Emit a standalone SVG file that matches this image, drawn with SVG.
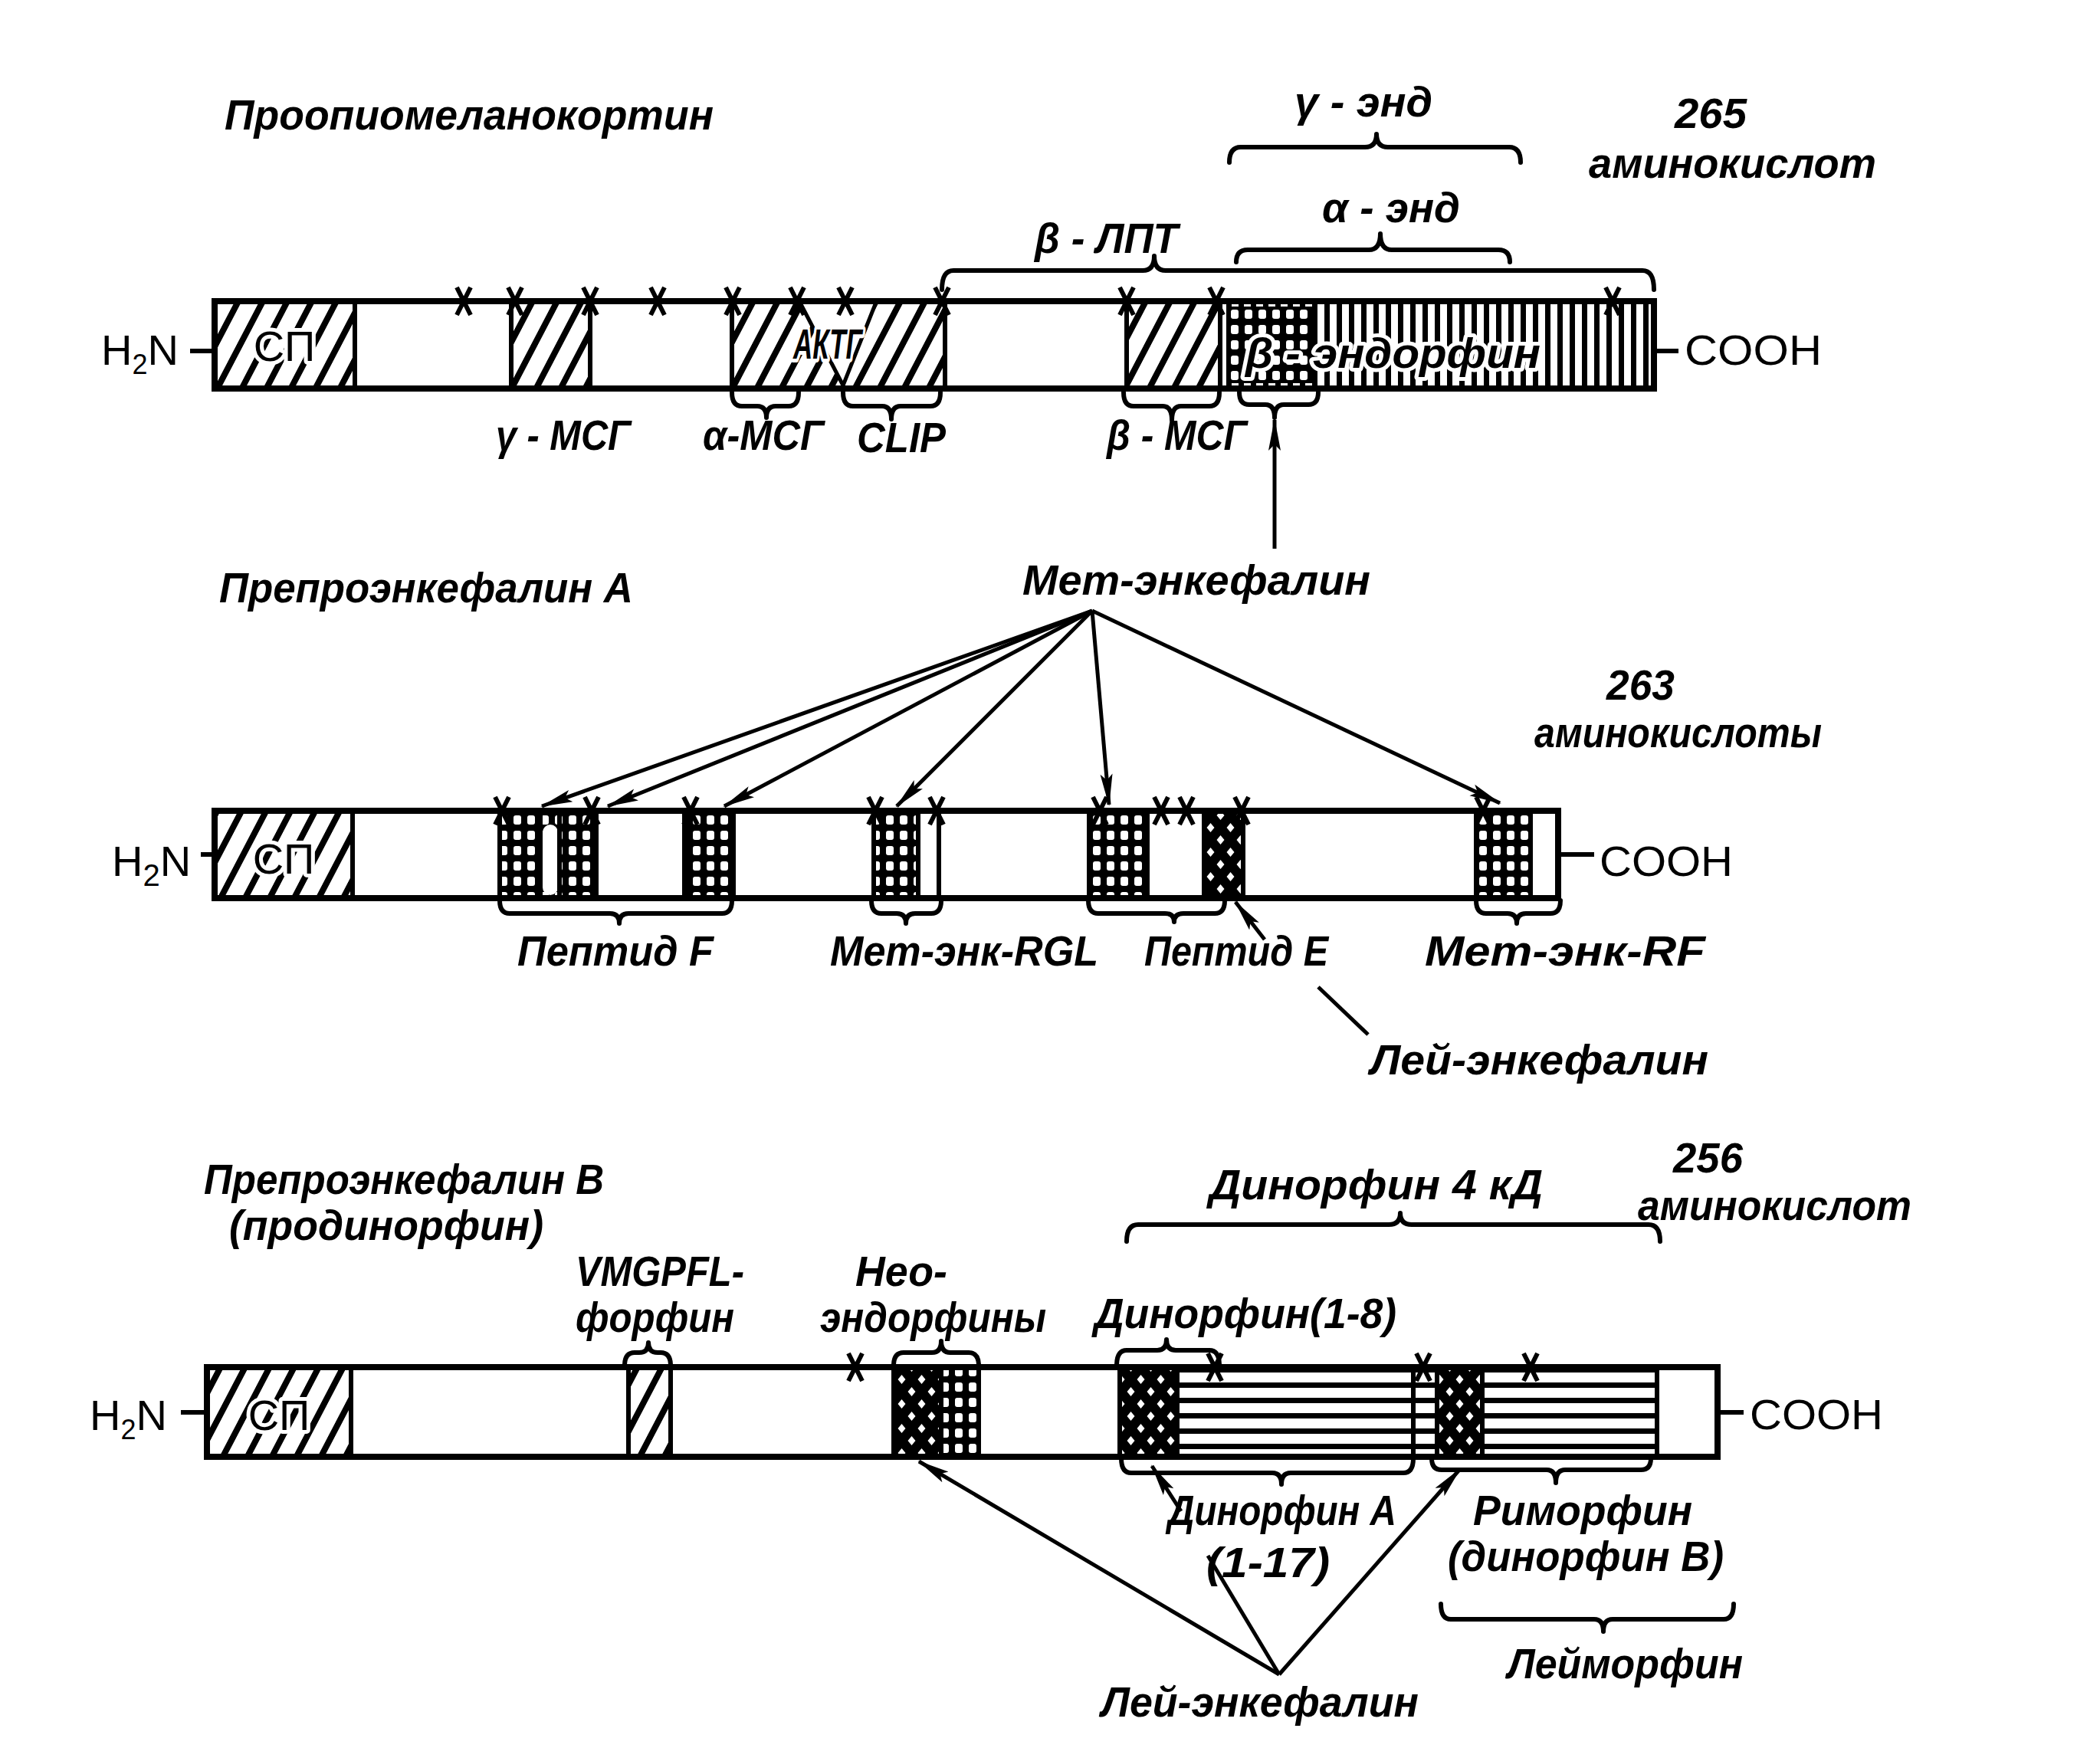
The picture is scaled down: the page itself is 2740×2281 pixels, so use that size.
<svg xmlns="http://www.w3.org/2000/svg" xmlns:xlink="http://www.w3.org/1999/xlink" width="2740" height="2281" viewBox="0 0 2740 2281">
<style>
.t{font-family:"Liberation Sans",Arial,sans-serif;font-style:italic;font-weight:bold;font-size:56px;fill:#000}
.u{font-family:"Liberation Sans",Arial,sans-serif;font-size:56px;fill:#000}
.halo{stroke:#fff;stroke-width:10px;paint-order:stroke;stroke-linejoin:round}
.bar{fill:none;stroke:#000;stroke-width:8}
.div{stroke:#000;stroke-width:6}
.br{fill:none;stroke:#000;stroke-width:6;stroke-linejoin:round;stroke-linecap:round}
.ln{fill:none;stroke:#000;stroke-width:5}
.ar{fill:none;stroke:#000;stroke-width:5;marker-end:url(#ah)}
</style>
<defs>
<pattern id="hatch" patternUnits="userSpaceOnUse" width="32" height="32" patternTransform="skewX(-27.6)"><rect width="32" height="32" fill="#fff"/><rect x="0" width="9" height="32" fill="#000"/></pattern>
<pattern id="vlines" patternUnits="userSpaceOnUse" width="16" height="20"><rect width="16" height="20" fill="#fff"/><rect width="7" height="20" fill="#000"/></pattern>
<pattern id="grid" patternUnits="userSpaceOnUse" width="18" height="20"><rect width="18" height="20" fill="#000"/><rect x="4" y="4" width="10" height="12" rx="3" fill="#fff"/></pattern>
<pattern id="xhatch" patternUnits="userSpaceOnUse" width="26" height="32"><rect width="26" height="32" fill="#000"/><path d="M6.5,2 L11.5,8 L6.5,14 L1.5,8 Z M19.5,18 L24.5,24 L19.5,30 L14.5,24 Z" fill="#fff"/></pattern>
<pattern id="hlines" patternUnits="userSpaceOnUse" y="1804" width="20" height="20"><rect width="20" height="20" fill="#fff"/><rect width="20" height="7" fill="#000"/></pattern>
<marker id="ah" markerUnits="userSpaceOnUse" markerWidth="42" markerHeight="18" refX="40" refY="9" orient="auto"><path d="M0,1 L42,9 L0,17 L8,9 Z" fill="#000"/></marker>
<path id="tick" d="M-9,-18 L9,18 M9,-18 L-9,18" stroke="#000" stroke-width="6" fill="none"/>
</defs>
<rect width="2740" height="2281" fill="#fff"/>

<!-- Row 1: POMC -->
<g id="pomc">
<rect x="280" y="393" width="183" height="114" fill="url(#hatch)"/>
<rect x="667" y="393" width="103" height="114" fill="url(#hatch)"/>
<rect x="955" y="393" width="278" height="114" fill="url(#hatch)"/>
<rect x="1470" y="393" width="122" height="114" fill="url(#hatch)"/>
<rect x="1592" y="393" width="566" height="114" fill="url(#vlines)"/>
<rect x="1600" y="400" width="112" height="100" fill="url(#grid)"/>
<polygon points="1045,397 1142,397 1100,503" fill="#fff"/>
<path class="ln" d="M1045,397 L1100,503 L1142,397"/>
<line class="div" x1="463" y1="393" x2="463" y2="507"/>
<line class="div" x1="667" y1="393" x2="667" y2="507"/>
<line class="div" x1="770" y1="393" x2="770" y2="507"/>
<line class="div" x1="955" y1="393" x2="955" y2="507"/>
<line class="div" x1="1233" y1="393" x2="1233" y2="507"/>
<line class="div" x1="1470" y1="393" x2="1470" y2="507"/>
<line class="div" x1="1592" y1="393" x2="1592" y2="507"/>
<rect class="bar" x="280" y="393" width="1878" height="114"/>
<text class="u halo" x="371" y="471" text-anchor="middle">СП</text>
<text class="t halo" x="1035" y="468" font-size="40" textLength="90" lengthAdjust="spacingAndGlyphs">АКТГ</text>
<text class="t halo" x="1625" y="480" textLength="385" lengthAdjust="spacingAndGlyphs">β - эндорфин</text>
<use href="#tick" x="605" y="393"/><use href="#tick" x="672" y="393"/><use href="#tick" x="770" y="393"/>
<use href="#tick" x="858" y="393"/><use href="#tick" x="956" y="393"/><use href="#tick" x="1040" y="393"/>
<use href="#tick" x="1103" y="393"/><use href="#tick" x="1229" y="393"/><use href="#tick" x="1470" y="393"/>
<use href="#tick" x="1587" y="393"/><use href="#tick" x="2104" y="393"/>
<text class="u" x="132" y="476">H<tspan font-size="36" dy="12">2</tspan><tspan dy="-12">N</tspan></text>
<line class="div" x1="248" y1="458" x2="280" y2="458"/>
<line class="div" x1="2158" y1="458" x2="2190" y2="458"/>
<text class="u" x="2198" y="476" textLength="179" lengthAdjust="spacingAndGlyphs">COOH</text>
</g>
<g id="pomc-labels">
<text class="t" x="293" y="169" textLength="638" lengthAdjust="spacingAndGlyphs">Проопиомеланокортин</text>
<text class="t" x="1689" y="152" textLength="180" lengthAdjust="spacingAndGlyphs">γ - энд</text>
<text class="t" x="1725" y="290" textLength="180" lengthAdjust="spacingAndGlyphs">α - энд</text>
<text class="t" x="1350" y="330" textLength="187" lengthAdjust="spacingAndGlyphs">β - ЛПТ</text>
<text class="t" x="2185" y="167" textLength="94" lengthAdjust="spacingAndGlyphs">265</text>
<text class="t" x="2073" y="232" textLength="375" lengthAdjust="spacingAndGlyphs">аминокислот</text>
<text class="t" x="647" y="587" textLength="176" lengthAdjust="spacingAndGlyphs">γ - МСГ</text>
<text class="t" x="917" y="587" textLength="158" lengthAdjust="spacingAndGlyphs">α-МСГ</text>
<text class="t" x="1118" y="590" textLength="116" lengthAdjust="spacingAndGlyphs">CLIP</text>
<text class="t" x="1444" y="587" textLength="183" lengthAdjust="spacingAndGlyphs">β - МСГ</text>
</g>

<!-- Row 2: Preproenkephalin A -->
<g id="penkA">
<rect x="280" y="1058" width="180" height="114" fill="url(#hatch)"/>
<rect x="650" y="1058" width="130" height="114" fill="url(#grid)"/>
<rect x="708" y="1076" width="20" height="92" rx="10" fill="#fff"/>
<rect x="893" y="1058" width="64" height="114" fill="url(#grid)"/>
<rect x="1140" y="1058" width="58" height="114" fill="url(#grid)"/>
<rect x="1421" y="1058" width="76" height="114" fill="url(#grid)"/>
<rect x="1571" y="1058" width="51" height="114" fill="url(#xhatch)"/>
<rect x="1926" y="1058" width="71" height="114" fill="url(#grid)"/>
<line class="div" x1="460" y1="1058" x2="460" y2="1172"/>
<line class="div" x1="652" y1="1058" x2="652" y2="1172"/>
<line class="div" x1="705" y1="1058" x2="705" y2="1172"/>
<line class="div" x1="730" y1="1058" x2="730" y2="1172"/>
<line class="div" x1="778" y1="1058" x2="778" y2="1172"/>
<line class="div" x1="893" y1="1058" x2="893" y2="1172"/>
<line class="div" x1="957" y1="1058" x2="957" y2="1172"/>
<line class="div" x1="1140" y1="1058" x2="1140" y2="1172"/>
<line class="div" x1="1198" y1="1058" x2="1198" y2="1172"/>
<line class="div" x1="1225" y1="1058" x2="1225" y2="1172"/>
<line class="div" x1="1421" y1="1058" x2="1421" y2="1172"/>
<line class="div" x1="1497" y1="1058" x2="1497" y2="1172"/>
<line class="div" x1="1571" y1="1058" x2="1571" y2="1172"/>
<line class="div" x1="1622" y1="1058" x2="1622" y2="1172"/>
<line class="div" x1="1926" y1="1058" x2="1926" y2="1172"/>
<line class="div" x1="1997" y1="1058" x2="1997" y2="1172"/>
<rect class="bar" x="280" y="1058" width="1753" height="114"/>
<text class="u halo" x="370" y="1140" text-anchor="middle" font-size="60">СП</text>
<use href="#tick" x="655" y="1058"/><use href="#tick" x="772" y="1058"/><use href="#tick" x="901" y="1058"/>
<use href="#tick" x="1142" y="1058"/><use href="#tick" x="1222" y="1058"/><use href="#tick" x="1435" y="1058"/>
<use href="#tick" x="1515" y="1058"/><use href="#tick" x="1548" y="1058"/><use href="#tick" x="1620" y="1058"/>
<use href="#tick" x="1935" y="1058"/>
<text class="u" x="146" y="1143" font-size="62">H<tspan font-size="40" dy="13">2</tspan><tspan dy="-13">N</tspan></text>
<line class="div" x1="262" y1="1115" x2="280" y2="1115"/>
<line class="div" x1="2033" y1="1115" x2="2080" y2="1115"/>
<text class="u" x="2087" y="1143" font-size="62" textLength="174" lengthAdjust="spacingAndGlyphs">COOH</text>
</g>
<g id="penkA-labels">
<text class="t" x="286" y="786" textLength="540" lengthAdjust="spacingAndGlyphs">Препроэнкефалин А</text>
<text class="t" x="1334" y="776" textLength="454" lengthAdjust="spacingAndGlyphs">Мет-энкефалин</text>
<text class="t" x="2096" y="913" textLength="89" lengthAdjust="spacingAndGlyphs">263</text>
<text class="t" x="2002" y="975" textLength="375" lengthAdjust="spacingAndGlyphs">аминокислоты</text>
<text class="t" x="675" y="1260" textLength="256" lengthAdjust="spacingAndGlyphs">Пептид F</text>
<text class="t" x="1083" y="1260" textLength="350" lengthAdjust="spacingAndGlyphs">Мет-энк-RGL</text>
<text class="t" x="1493" y="1260" textLength="240" lengthAdjust="spacingAndGlyphs">Пептид E</text>
<text class="t" x="1859" y="1260" textLength="366" lengthAdjust="spacingAndGlyphs">Мет-энк-RF</text>
<text class="t" x="1788" y="1402" textLength="441" lengthAdjust="spacingAndGlyphs">Лей-энкефалин</text>
</g>

<!-- Row 3: Preproenkephalin B -->
<g id="penkB">
<rect x="270" y="1784" width="188" height="117" fill="url(#hatch)"/>
<rect x="820" y="1784" width="55" height="117" fill="url(#hatch)"/>
<rect x="1166" y="1784" width="62" height="117" fill="url(#xhatch)"/>
<rect x="1228" y="1784" width="49" height="117" fill="url(#grid)"/>
<rect x="1461" y="1784" width="75" height="117" fill="url(#xhatch)"/>
<rect x="1536" y="1784" width="339" height="117" fill="url(#hlines)"/>
<rect x="1875" y="1784" width="59" height="117" fill="url(#xhatch)"/>
<rect x="1934" y="1784" width="228" height="117" fill="url(#hlines)"/>
<line class="div" x1="458" y1="1784" x2="458" y2="1901"/>
<line class="div" x1="820" y1="1784" x2="820" y2="1901"/>
<line class="div" x1="875" y1="1784" x2="875" y2="1901"/>
<line class="div" x1="1166" y1="1784" x2="1166" y2="1901"/>
<line class="div" x1="1228" y1="1784" x2="1228" y2="1901"/>
<line class="div" x1="1277" y1="1784" x2="1277" y2="1901"/>
<line class="div" x1="1461" y1="1784" x2="1461" y2="1901"/>
<line class="div" x1="1536" y1="1784" x2="1536" y2="1901"/>
<line class="div" x1="1844" y1="1784" x2="1844" y2="1901"/>
<line class="div" x1="1875" y1="1784" x2="1875" y2="1901"/>
<line class="div" x1="1934" y1="1784" x2="1934" y2="1901"/>
<line class="div" x1="2162" y1="1784" x2="2162" y2="1901"/>
<rect class="bar" x="270" y="1784" width="1971" height="117"/>
<text class="u halo" x="364" y="1866" text-anchor="middle">СП</text>
<use href="#tick" x="1116" y="1784"/><use href="#tick" x="1585" y="1784"/><use href="#tick" x="1857" y="1784"/>
<use href="#tick" x="1997" y="1784"/>
<text class="u" x="117" y="1866">H<tspan font-size="36" dy="12">2</tspan><tspan dy="-12">N</tspan></text>
<line class="div" x1="236" y1="1843" x2="270" y2="1843"/>
<line class="div" x1="2241" y1="1843" x2="2275" y2="1843"/>
<text class="u" x="2283" y="1865" textLength="174" lengthAdjust="spacingAndGlyphs">COOH</text>
</g>
<g id="penkB-labels">
<text class="t" x="266" y="1558" textLength="522" lengthAdjust="spacingAndGlyphs">Препроэнкефалин В</text>
<text class="t" x="299" y="1618" textLength="410" lengthAdjust="spacingAndGlyphs">(продинорфин)</text>
<text class="t" x="751" y="1678" font-size="40" textLength="220" lengthAdjust="spacingAndGlyphs">VMGPFL-</text>
<text class="t" x="751" y="1738" font-size="40" textLength="207" lengthAdjust="spacingAndGlyphs">форфин</text>
<text class="t" x="1116" y="1678" font-size="40" textLength="120" lengthAdjust="spacingAndGlyphs">Нео-</text>
<text class="t" x="1070" y="1738" font-size="40" textLength="295" lengthAdjust="spacingAndGlyphs">эндорфины</text>
<text class="t" x="1578" y="1565" textLength="435" lengthAdjust="spacingAndGlyphs">Динорфин 4 кД</text>
<text class="t" x="2183" y="1530" textLength="91" lengthAdjust="spacingAndGlyphs">256</text>
<text class="t" x="2137" y="1592" textLength="357" lengthAdjust="spacingAndGlyphs">аминокислот</text>
<text class="t" x="1428" y="1733" textLength="394" lengthAdjust="spacingAndGlyphs">Динорфин(1-8)</text>
<text class="t" x="1524" y="1990" textLength="298" lengthAdjust="spacingAndGlyphs">Динорфин А</text>
<text class="t" x="1574" y="2058" textLength="161" lengthAdjust="spacingAndGlyphs">(1-17)</text>
<text class="t" x="1922" y="1990" textLength="286" lengthAdjust="spacingAndGlyphs">Риморфин</text>
<text class="t" x="1889" y="2050" textLength="360" lengthAdjust="spacingAndGlyphs">(динорфин В)</text>
<text class="t" x="1967" y="2190" textLength="307" lengthAdjust="spacingAndGlyphs">Лейморфин</text>
<text class="t" x="1437" y="2240" textLength="414" lengthAdjust="spacingAndGlyphs">Лей-энкефалин</text>
</g>

<!-- Connectors: braces and arrows -->
<g id="connectors">
<path class="br" d="M1604,212 Q1604,192 1619,192 L1781,192 Q1796,192 1796,175 Q1796,192 1811,192 L1969,192 Q1984,192 1984,212"/>
<path class="br" d="M1613,342 Q1613,326 1628,326 L1786,326 Q1801,326 1801,305 Q1801,326 1816,326 L1955,326 Q1970,326 1970,342"/>
<path class="br" d="M1229,378 Q1229,353 1244,353 L1491,353 Q1506,353 1506,334 Q1506,353 1521,353 L2143,353 Q2158,353 2158,378"/>
<path class="br" d="M955,512 Q955,530 968,530 L988,530 Q1000,530 1000,545 Q1000,530 1012,530 L1029,530 Q1042,530 1042,512"/>
<path class="br" d="M1100,512 Q1100,530 1113,530 L1151,530 Q1163,530 1163,547 Q1163,530 1175,530 L1214,530 Q1227,530 1227,512"/>
<path class="br" d="M1466,512 Q1466,530 1479,530 L1517,530 Q1529,530 1529,548 Q1529,530 1541,530 L1578,530 Q1591,530 1591,512"/>
<path class="br" d="M1617,512 Q1617,528 1630,528 L1651,528 Q1663,528 1663,545 Q1663,528 1675,528 L1707,528 Q1720,528 1720,512"/>
<line class="ar" x1="1663" y1="716" x2="1663" y2="548"/>

<line class="ar" x1="1425" y1="797" x2="707" y2="1052"/>
<line class="ar" x1="1425" y1="797" x2="793" y2="1052"/>
<line class="ar" x1="1425" y1="797" x2="945" y2="1052"/>
<line class="ar" x1="1425" y1="797" x2="1170" y2="1052"/>
<line class="ar" x1="1425" y1="797" x2="1447" y2="1050"/>
<line class="ar" x1="1425" y1="797" x2="1957" y2="1048"/>
<path class="br" d="M652,1175 Q652,1192 665,1192 L796,1192 Q808,1192 808,1205 Q808,1192 820,1192 L942,1192 Q955,1192 955,1175"/>
<path class="br" d="M1137,1175 Q1137,1192 1150,1192 L1170,1192 Q1182,1192 1182,1205 Q1182,1192 1194,1192 L1215,1192 Q1228,1192 1228,1175"/>
<path class="br" d="M1420,1175 Q1420,1192 1433,1192 L1520,1192 Q1532,1192 1532,1203 Q1532,1192 1544,1192 L1585,1192 Q1598,1192 1598,1175"/>
<path class="br" d="M1926,1175 Q1926,1192 1939,1192 L1967,1192 Q1979,1192 1979,1205 Q1979,1192 1991,1192 L2023,1192 Q2036,1192 2036,1175"/>
<line class="ar" x1="1650" y1="1226" x2="1612" y2="1177"/>
<line class="ln" x1="1720" y1="1288" x2="1785" y2="1350"/>

<path class="br" d="M1470,1620 Q1470,1598 1485,1598 L1812,1598 Q1827,1598 1827,1583 Q1827,1598 1842,1598 L2151,1598 Q2166,1598 2166,1620"/>
<path class="br" d="M815,1782 Q815,1765 828,1765 L834,1765 Q846,1765 846,1752 Q846,1765 858,1765 L862,1765 Q875,1765 875,1782"/>
<path class="br" d="M1166,1782 Q1166,1765 1179,1765 L1216,1765 Q1228,1765 1228,1750 Q1228,1765 1240,1765 L1264,1765 Q1277,1765 1277,1782"/>
<path class="br" d="M1457,1782 Q1457,1762 1470,1762 L1510,1762 Q1522,1762 1522,1748 Q1522,1762 1534,1762 L1578,1762 Q1591,1762 1591,1782"/>
<path class="br" d="M1463,1903 Q1463,1922 1476,1922 L1660,1922 Q1672,1922 1672,1937 Q1672,1922 1684,1922 L1831,1922 Q1844,1922 1844,1903"/>
<path class="br" d="M1868,1903 Q1868,1918 1881,1918 L2018,1918 Q2030,1918 2030,1935 Q2030,1918 2042,1918 L2141,1918 Q2154,1918 2154,1903"/>
<path class="br" d="M1880,2093 Q1880,2113 1893,2113 L2080,2113 Q2092,2113 2092,2129 Q2092,2113 2104,2113 L2249,2113 Q2262,2113 2262,2093"/>
<line class="ar" x1="1669" y1="2185" x2="1199" y2="1907"/>
<line class="ln" x1="1669" y1="2185" x2="1576" y2="2030"/>
<line class="ar" x1="1541" y1="1972" x2="1503" y2="1913"/>
<line class="ar" x1="1669" y1="2185" x2="1905" y2="1917"/>
</g>
</svg>
